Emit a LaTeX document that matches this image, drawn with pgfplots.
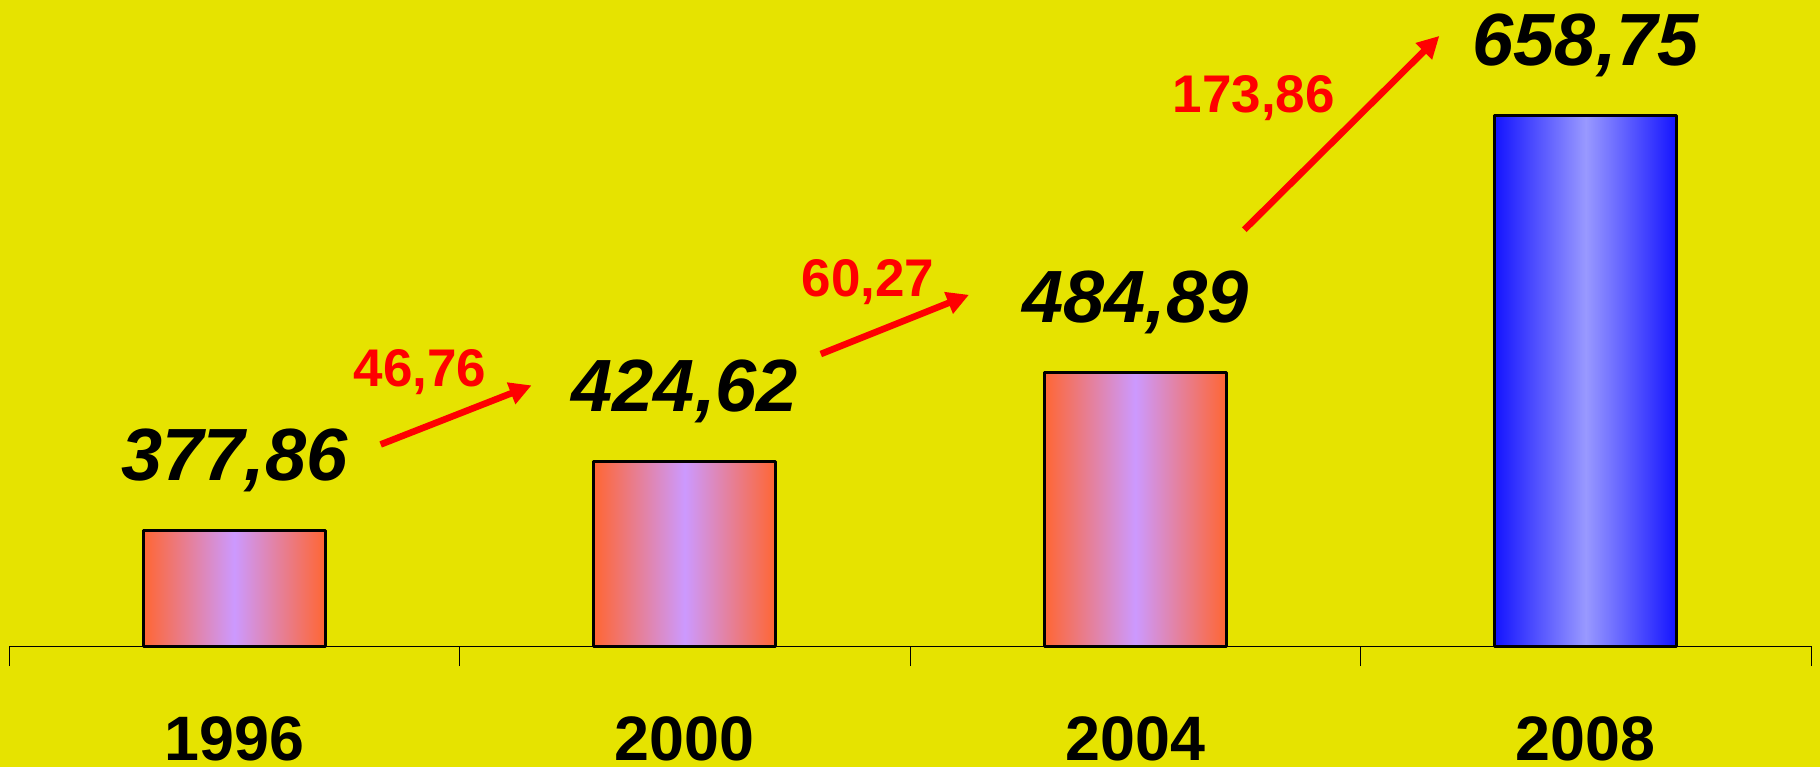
\documentclass[border=0pt]{standalone}
\usepackage{pgfplots}
\pgfplotsset{compat=1.18}
\usetikzlibrary{arrows.meta}
\usepackage{fontspec}
\setmainfont{Liberation Sans}
\definecolor{bg}{RGB}{230,227,0}
\definecolor{orng}{RGB}{255,102,51}
\definecolor{viol}{RGB}{204,153,255}
\definecolor{blu}{RGB}{20,20,255}
\definecolor{lblu}{RGB}{153,153,255}
\definecolor{arr}{RGB}{255,0,0}
\pgfplotsset{
  mybar/.style={ybar, bar width=91pt, bar shift=0pt, draw=black, line width=1.5pt, line join=round},
  orangebar/.style={mybar, left color=orng, right color=orng, middle color=viol},
  bluebar/.style={mybar, left color=blu, right color=blu, middle color=lblu},
}
\begin{document}
\begin{tikzpicture}
\fill[bg] (0,0) rectangle (910pt,383.5pt);
\useasboundingbox (0,0) rectangle (910pt,383.5pt);
\begin{axis}[
  at={(4.5pt,60.5pt)}, anchor=south west,
  scale only axis, width=901pt, height=323pt,
  xmin=-0.5, xmax=3.5, ymin=300, ymax=737.2,
  clip=false,
  axis x line*=bottom, hide y axis,
  axis line style={black, line width=0.5pt},
  xtick={-0.5,0.5,1.5,2.5,3.5},
  xticklabels={,,,,},
  xtick align=outside,
  major tick length=10pt,
  tick style={black, line width=0.5pt},
  extra x ticks={0,1,2,3},
  extra x tick labels={1996,2000,2004,2008},
  extra x tick style={major tick length=0pt,
    xticklabel style={anchor=base, inner sep=0pt, yshift=-57.3pt, font=\fontsize{31.4}{36}\selectfont\bfseries}},
  nodes near coords,
  point meta=explicit symbolic,
  nodes near coords style={anchor=base, yshift=25pt, text=black,
    font=\fontsize{37}{42}\selectfont\bfseries\itshape},
]
\addplot[orangebar] coordinates {(0,377.86) [{377,86}]};
\addplot[orangebar] coordinates {(1,424.62) [{424,62}]};
\addplot[orangebar] coordinates {(2,484.89) [{484,89}]};
\addplot[bluebar] coordinates {(3,658.75) [{658,75}]};
\draw[arr, line width=3.3pt, -{Triangle[length=11pt,width=11pt]}]
  (axis cs:0.325,436.4) -- (axis cs:0.660,476.4);
\draw[arr, line width=3.3pt, -{Triangle[length=11pt,width=11pt]}]
  (axis cs:1.302,497.6) -- (axis cs:1.631,537.7);
\draw[arr, line width=3.3pt, -{Triangle[length=11pt,width=11pt]}]
  (axis cs:2.242,581.7) -- (axis cs:2.675,712.9);
\node[anchor=base, text=arr, font=\fontsize{26.5}{30}\selectfont\bfseries] at (axis cs:0.412,475.6) {46,76};
\node[anchor=base, text=arr, font=\fontsize{26.5}{30}\selectfont\bfseries] at (axis cs:1.407,536.2) {60,27};
\node[anchor=base, text=arr, font=\fontsize{26.5}{30}\selectfont\bfseries] at (axis cs:2.263,661) {173,86};
\end{axis}
\end{tikzpicture}
\end{document}
